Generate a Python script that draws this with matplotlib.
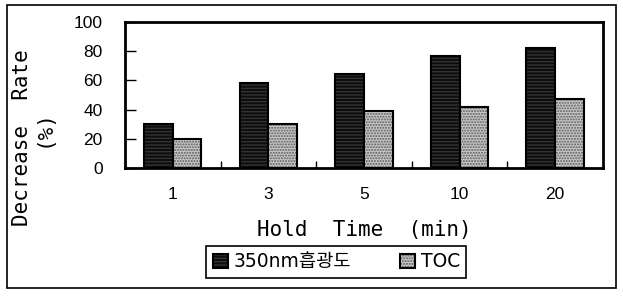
import numpy as np
import matplotlib.pyplot as plt
from matplotlib.patches import Rectangle

# data
hold_time = ['1', '3', '5', '10', '20']
absorb_350 = [30, 58, 64, 77, 82]
toc = [20, 30, 39, 42, 47]
y_ticks = [0, 20, 40, 60, 80, 100]

plt.rcParams['font.family'] = ['Liberation Sans', 'DejaVu Sans']
mono = ['DejaVu Sans Mono']

fig = plt.figure(figsize=(6.23, 3.0), dpi=100)
ax = fig.add_axes([0.2006, 0.44, 0.7672, 0.487])

x = np.arange(len(hold_time))
w = 0.3

# filled bars with texture, then outline on top
b1 = ax.bar(x - w / 2, absorb_350, w, facecolor='#0d0d0d', hatch='-----',
            edgecolor='#333333', linewidth=0)
b1e = ax.bar(x - w / 2, absorb_350, w, fill=False, edgecolor='black', linewidth=1.5)
b2 = ax.bar(x + w / 2, toc, w, facecolor='#c8c8c8', hatch='......',
            edgecolor='#5a5a5a', linewidth=0)
b2e = ax.bar(x + w / 2, toc, w, fill=False, edgecolor='black', linewidth=1.5)

ax.set_xlim(-0.5, len(hold_time) - 0.5)
ax.set_ylim(0, 100)
ax.set_yticks(y_ticks)
ax.set_yticklabels([str(v) for v in y_ticks], fontsize=12.5)
ax.set_xticks(x)
ax.set_xticklabels(hold_time, fontsize=12.5)
ax.set_xticks(x[:-1] + 0.5, minor=True)
ax.tick_params(axis='x', which='major', length=0, pad=14)
ax.tick_params(axis='x', which='minor', direction='in', length=5, width=1)
ax.tick_params(axis='y', direction='in', length=8, width=1, pad=16)

for s in ax.spines.values():
    s.set_linewidth(2)

fig.text(0.5843, 0.233, 'Hold  Time  (min)', family=mono, fontsize=15,
         ha='center', va='center')
fig.text(0.036, 0.54, 'Decrease  Rate', family=mono, fontsize=15,
         rotation=90, ha='center', va='center')
fig.text(0.070, 0.573, '(%)', family=mono, fontsize=15,
         rotation=90, ha='center', va='center')

leg = fig.legend([(b1[0], b1e[0]), (b2[0], b2e[0])], ['350nm흡광도', 'TOC'],
                 loc='center', bbox_to_anchor=(0.54, 0.127), ncol=2,
                 prop={'family': ['DejaVu Sans', 'Noto Sans CJK KR'], 'size': 13.5},
                 fancybox=False, edgecolor='black', handlelength=0.8,
                 handleheight=0.8, handletextpad=0.3, columnspacing=2.6,
                 borderpad=0.35, framealpha=1)
leg.get_frame().set_linewidth(1.2)

# outer frame around the whole chart
fig.patches.append(Rectangle((0.011, 0.04), 0.978, 0.943, transform=fig.transFigure,
                             fill=False, edgecolor='black', linewidth=1.2))

fig.savefig('out.png', dpi=100)
